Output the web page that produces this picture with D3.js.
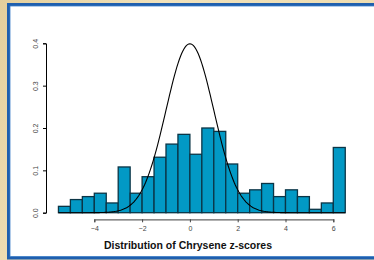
<!DOCTYPE html>
<html>
<head>
<meta charset="utf-8">
<script src="https://cdn.jsdelivr.net/npm/d3@7"></script>
<style>
  html, body { margin: 0; padding: 0; overflow: hidden; }
  svg { display: block; }
</style>
</head>
<body>
<div id="chart"></div>
<script>
// histogram bins (left edges), width 0.5
const binStarts = [-5.5, -5, -4.5, -4, -3.5, -3, -2.5, -2, -1.5, -1, -0.5, 0,
                   0.5, 1, 1.5, 2, 2.5, 3, 3.5, 4, 4.5, 5, 5.5, 6];
const densities = [0.015, 0.031, 0.038, 0.046, 0.023, 0.108, 0.046, 0.085,
                   0.131, 0.162, 0.185, 0.138, 0.200, 0.192, 0.115, 0.046,
                   0.054, 0.069, 0.038, 0.054, 0.038, 0.008, 0.023, 0.154];
const binWidth = 0.5;
const xTicks = [-4, -2, 0, 2, 4, 6];
const yTicks = [0, 0.1, 0.2, 0.3, 0.4];
const xLabel = "Distribution of Chrysene z-scores";
// reference normal curve
const curveMean = 0, curveSd = 1;

const W = 374, H = 260;

const svg = d3.select("#chart").append("svg")
  .attr("width", W).attr("height", H);

// textured-ish backdrop
const defs = svg.append("defs");
const bg = defs.append("linearGradient").attr("id", "bg")
  .attr("x1", 0).attr("y1", 0).attr("x2", 1).attr("y2", 0.3);
bg.append("stop").attr("offset", "0%").attr("stop-color", "#e4cf9c");
bg.append("stop").attr("offset", "40%").attr("stop-color", "#f1e2bb");
bg.append("stop").attr("offset", "100%").attr("stop-color", "#eedcaf");
svg.append("rect").attr("width", W).attr("height", H).attr("fill", "url(#bg)");

// white panel with blue frame
svg.append("rect")
  .attr("x", 8.5).attr("y", 4.5).attr("width", W).attr("height", 253.5)
  .attr("fill", "#fff").attr("stroke", "#1f5fae").attr("stroke-width", 3);
svg.append("rect")
  .attr("x", 10).attr("y", 6).attr("width", W).attr("height", 250.5)
  .attr("fill", "none").attr("stroke", "#3c7ec8").attr("stroke-width", 0.8);

const x = d3.scaleLinear().domain([-4, 6]).range([94.3, 333.3]);
const y = d3.scaleLinear().domain([0, 0.4]).range([212.7, 43.3]);

// bars
const bins = binStarts.map((s, i) => ({ x0: s, x1: s + binWidth, d: densities[i] }));
svg.append("g").selectAll("rect").data(bins).join("rect")
  .attr("x", d => x(d.x0))
  .attr("y", d => y(d.d))
  .attr("width", d => x(d.x1) - x(d.x0))
  .attr("height", d => y(0) - y(d.d))
  .attr("fill", "#0299c5")
  .attr("stroke", "#0b3546")
  .attr("stroke-width", 1.3);

// normal density curve
const curvePts = d3.range(-5.5, 6.5001, 0.05).map(v => [v,
  Math.exp(-0.5 * ((v - curveMean) / curveSd) ** 2) / (curveSd * Math.sqrt(2 * Math.PI))]);
svg.append("path")
  .datum(curvePts)
  .attr("fill", "none")
  .attr("stroke", "#000")
  .attr("stroke-width", 1.1)
  .attr("d", d3.line().x(d => x(d[0])).y(d => y(d[1])));

// x axis
const gx = svg.append("g").attr("transform", "translate(0,219.3)")
  .call(d3.axisBottom(x).tickValues(xTicks).tickSize(3).tickPadding(4).tickFormat(d3.format("d")));
gx.select(".domain").attr("stroke", "#666").attr("stroke-width", 1.2);
gx.selectAll(".tick line").attr("stroke", "#444").attr("stroke-width", 1);
gx.selectAll("text").attr("font-family", "Liberation Sans, Arial, sans-serif")
  .attr("font-size", 7).attr("fill", "#444");

// y axis
const gy = svg.append("g").attr("transform", "translate(46,0)")
  .call(d3.axisLeft(y).tickValues(yTicks).tickSize(3).tickFormat(d3.format(".1f")));
gy.select(".domain").attr("stroke", "#000").attr("stroke-width", 1);
gy.selectAll(".tick line").attr("stroke", "#000");
gy.selectAll("text")
  .attr("font-family", "Liberation Sans, Arial, sans-serif")
  .attr("font-size", 7).attr("fill", "#444")
  .attr("x", null).attr("dy", null)
  .attr("text-anchor", "middle")
  .attr("transform", "translate(-8.5,0) rotate(-90)");

// x label
svg.append("text")
  .attr("x", 188).attr("y", 248.5)
  .attr("text-anchor", "middle")
  .attr("font-family", "Liberation Sans, Arial, sans-serif")
  .attr("font-weight", "bold").attr("font-size", 10.5).attr("fill", "#111")
  .text(xLabel);
</script>
</body>
</html>
